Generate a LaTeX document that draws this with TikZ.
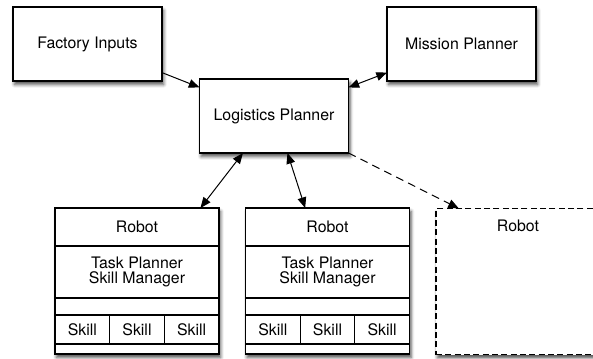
\documentclass[tikz,border=0pt]{standalone}
\usepackage{fontspec}
\setmainfont{TeX Gyre Heros}
\usetikzlibrary{positioning, arrows.meta, shadows.blur}

\begin{document}
\begin{tikzpicture}[x=0.75pt, y=-0.75pt, font=\fontsize{11.9}{11.5}\selectfont]
	\tikzset{block/.style={draw, rectangle, fill=white, line width=0.9pt, outer sep=0pt, minimum width=111.75pt, minimum height=55.5pt, blur shadow={shadow xshift=1.2pt, shadow yshift=-2.6pt, shadow blur radius=2.5pt, shadow opacity=70}}}
	\tikzset{robotbox/.style={block, minimum width=123pt, minimum height=109.5pt}}
	\tikzset{row/.style={draw, rectangle, line width=0.9pt, outer sep=0pt, inner sep=0pt, minimum width=123pt, align=center}}
	\tikzset{skill/.style={row, minimum width=41pt, minimum height=21.75pt}}
	\tikzset{edge/.style={line width=0.75pt, -{Triangle[length=8pt, width=6.5pt]}}}
	\tikzset{biedge/.style={line width=0.75pt, {Triangle[length=8pt, width=6.5pt]}-{Triangle[length=8pt, width=6.5pt]}}}
	
	\useasboundingbox (0,0) rectangle (593,358);
	
	\node(factory) at (87.5,44) [block] {Factory Inputs};
	\node(mission) at (461.5,44) [block] {Mission Planner};
	\node(logistics) at (274,116) [block] {Logistics Planner};
	
	% first robot
	\node(robot1) at (137,281) [robotbox] {};
	\node(r1name) [row, minimum height=28.5pt, below=0pt of robot1.north] {Robot};
	\node(r1task) [row, minimum height=39pt, below=0pt of r1name] {Task Planner\\Skill Manager};
	\node(r1gap) [row, minimum height=12.75pt, below=0pt of r1task] {};
	\node(r1skill2) [skill, below=0pt of r1gap] {Skill};
	\node(r1skill1) [skill, left=0pt of r1skill2] {Skill};
	\node(r1skill3) [skill, right=0pt of r1skill2] {Skill};
	
	% second robot
	\node(robot2) at (327.5,281) [robotbox] {};
	\node(r2name) [row, minimum height=28.5pt, below=0pt of robot2.north] {Robot};
	\node(r2task) [row, minimum height=39pt, below=0pt of r2name] {Task Planner\\Skill Manager};
	\node(r2gap) [row, minimum height=12.75pt, below=0pt of r2task] {};
	\node(r2skill2) [skill, below=0pt of r2gap] {Skill};
	\node(r2skill1) [skill, left=0pt of r2skill2] {Skill};
	\node(r2skill3) [skill, right=0pt of r2skill2] {Skill};
	
	% optional robot
	\node(robot3) at (518,281.5) [robotbox, dash pattern=on 4.5pt off 2.5pt] {};
	\node(r3name) [minimum height=26pt, minimum width=123pt, inner sep=0pt, below=0pt of robot3.north] {Robot};
	
	\draw[edge] (factory.-21) -- (logistics.159);
	\draw[biedge] (mission.201) -- (logistics.21);
	\draw[biedge] (logistics.230) -- (robot1.49.7);
	\draw[biedge] (logistics.-70.6) -- (robot2.107.1);
	\draw[edge, dash pattern=on 6pt off 4pt] (logistics.south east) -- (robot3.129.4);
	
\end{tikzpicture}
\end{document}
